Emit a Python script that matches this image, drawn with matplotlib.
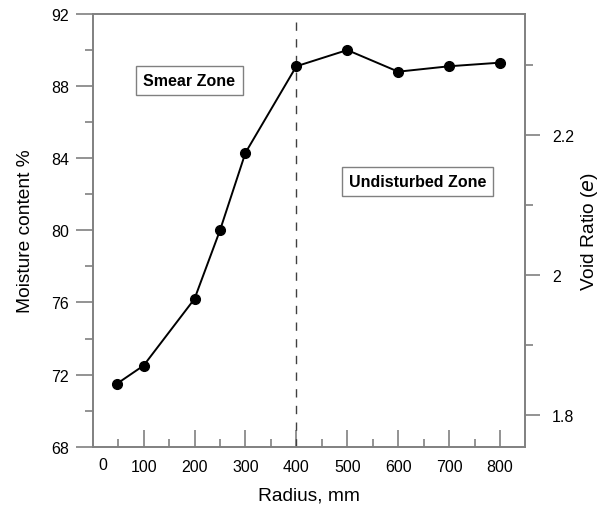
import numpy as np
import matplotlib
matplotlib.use("Agg")
import matplotlib.pyplot as plt
from matplotlib.ticker import FixedLocator

plt.rcParams['font.family'] = ['Liberation Sans', 'DejaVu Sans']

# data
radius = [48, 100, 200, 250, 300, 400, 500, 600, 700, 800]
moisture = [71.5, 72.5, 76.2, 80.0, 84.3, 89.1, 90.0, 88.8, 89.1, 89.3]
x_major = [100, 200, 300, 400, 500, 600, 700, 800]
x_minor = [50, 150, 250, 350, 450, 550, 650, 750]
y_major = [68, 72, 76, 80, 84, 88, 92]
y_minor = [70, 74, 78, 82, 86, 90]
e_major = [1.8, 2.0, 2.2]
e_labels = ["1.8", "2", "2.2"]
e_minor = [1.9, 2.1, 2.3]
Gs = 2.58  # void ratio e = Gs * w

grey = "#808080"

fig = plt.figure(figsize=(6.07, 5.06), dpi=100)
ax = fig.add_axes([0.1527, 0.1152, 0.713, 0.8552])

ax.plot(radius, moisture, color="black", lw=1.4, marker="o", ms=7, zorder=3)
ax.axvline(400, color="#404040", lw=1, ls=(0, (6, 6)))

ax.set_xlim(0, 850)
ax.set_ylim(68, 92)

for s in ax.spines.values():
    s.set_color(grey)
    s.set_linewidth(1.2)

ax.xaxis.set_major_locator(FixedLocator(x_major))
ax.xaxis.set_minor_locator(FixedLocator(x_minor))
ax.yaxis.set_major_locator(FixedLocator(y_major))
ax.yaxis.set_minor_locator(FixedLocator(y_minor))
ax.tick_params(axis="x", which="major", direction="in", length=12, width=1.2,
               color=grey, labelsize=11.5, pad=9)
ax.tick_params(axis="x", which="minor", direction="in", length=6, width=1.2, color=grey)
ax.tick_params(axis="y", which="major", direction="out", length=12, width=1.2,
               color=grey, labelsize=11.5, pad=5)
ax.tick_params(axis="y", which="minor", direction="out", length=6, width=1.2, color=grey)

# the "0" label has no tick of its own and sits right of the axis origin
ax.text(20, -0.041, "0", transform=ax.get_xaxis_transform(),
        ha="center", va="center", fontsize=11.5)

ax.set_xlabel("Radius, mm", fontsize=13.8, va="center")
ax.xaxis.set_label_coords(0.5, -0.111)
ax.set_ylabel("Moisture content %", fontsize=13.8, va="center")
ax.yaxis.set_label_coords(-0.156, 0.5)

ax2 = ax.twinx()
ax2.set_ylim(68 * Gs / 100, 92 * Gs / 100)
ax2.yaxis.set_major_locator(FixedLocator(e_major))
ax2.yaxis.set_minor_locator(FixedLocator(e_minor))
ax2.set_yticklabels(e_labels)
ax2.tick_params(axis="y", which="major", direction="out", length=11, width=1.2,
                color=grey, labelsize=11.5, pad=8)
ax2.tick_params(axis="y", which="minor", direction="out", length=6, width=1.2, color=grey)
for s in ax2.spines.values():
    s.set_color(grey)
    s.set_linewidth(1.2)
ax2.set_ylabel("Void Ratio ($\\it{e}$)", fontsize=13.8, va="center")
ax2.yaxis.set_label_coords(1.149, 0.5)

box = dict(boxstyle="square,pad=0.45", fc="white", ec=grey, lw=1)
ax.text(190, 88.3, "Smear Zone", fontsize=11.5, fontweight="bold",
        ha="center", va="center", bbox=box)
ax.text(638, 82.7, "Undisturbed Zone", fontsize=11.5, fontweight="bold",
        ha="center", va="center", bbox=box)

fig.savefig("out.png", dpi=100)
